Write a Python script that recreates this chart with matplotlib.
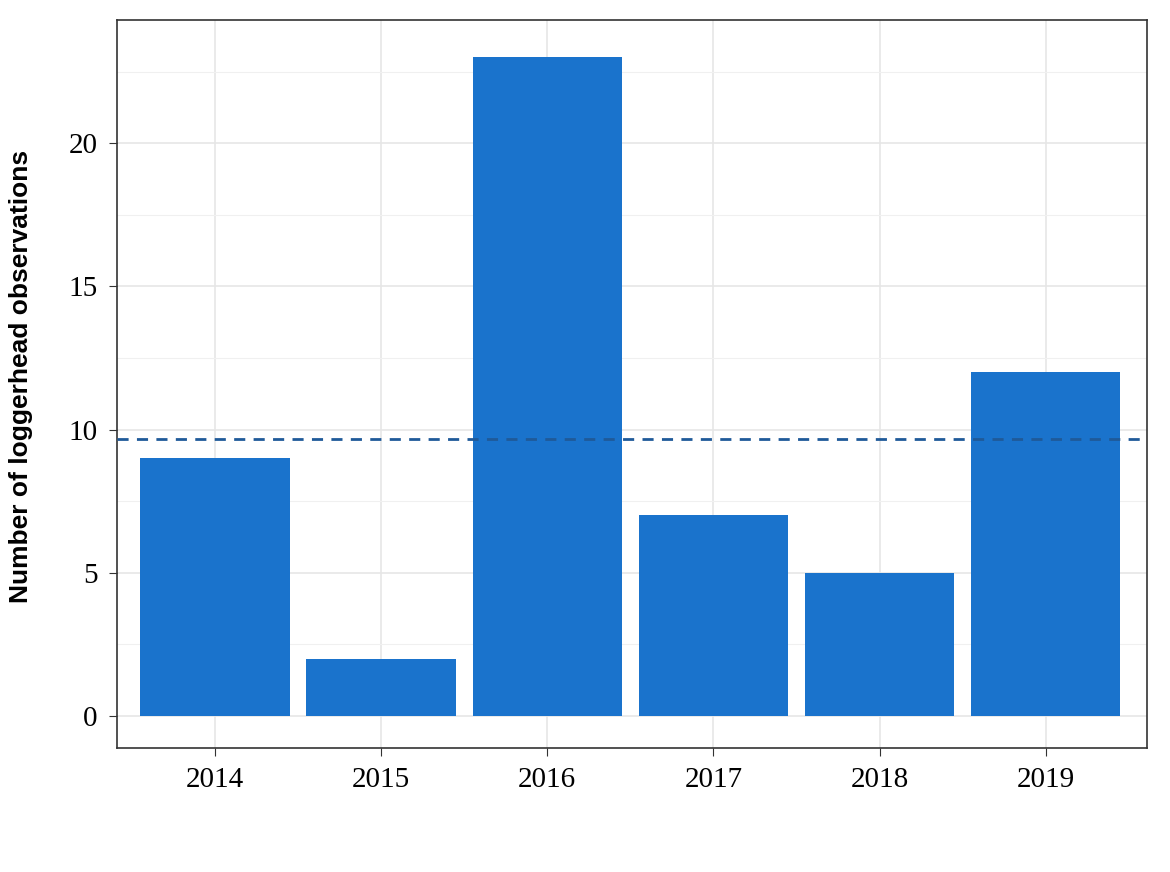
import matplotlib
matplotlib.use("Agg")
import matplotlib.pyplot as plt
import numpy as np

years = ["2014", "2015", "2016", "2017", "2018", "2019"]
counts = [9, 2, 23, 7, 5, 12]
yticks = [0, 5, 10, 15, 20]

fig = plt.figure(figsize=(11.7, 8.72), dpi=100)
ax = fig.add_axes([117/1170, 1-748/872, (1147-117)/1170, (748-20)/872])
x = np.arange(len(years))
ax.set_axisbelow(True)
ax.bar(x, counts, width=0.9, color="#1a73cc", zorder=2)
ax.axhline(np.mean(counts), color="#1f5a99", linestyle=(0, (4, 3)), linewidth=2, zorder=3)
ax.set_xlim(-0.59, 5.61)
ax.set_ylim(-1.12, 24.3)
ax.set_xticks(x)
ax.set_xticklabels(years, fontfamily="Liberation Serif", fontsize=21)
ax.set_yticks(yticks)
ax.set_yticklabels([str(v) for v in yticks], fontfamily="Liberation Serif", fontsize=21)
ax.set_yticks([2.5, 7.5, 12.5, 17.5, 22.5], minor=True)
ax.grid(True, which="major", color="#e6e6e6", linewidth=1.2)
ax.grid(True, which="minor", axis="y", color="#f0f0f0", linewidth=0.8)
ax.tick_params(axis="y", which="minor", length=0)
ax.tick_params(axis="both", which="major", length=6, color="#333333", pad=8)
for s in ax.spines.values():
    s.set_color("#333333")
    s.set_linewidth(1.2)
ax.set_ylabel("Number of loggerhead observations", fontfamily="Liberation Sans",
              fontweight="bold", fontsize=19)
ax.yaxis.set_label_coords(-0.082, 0.51)
fig.savefig("out.png", dpi=100)
